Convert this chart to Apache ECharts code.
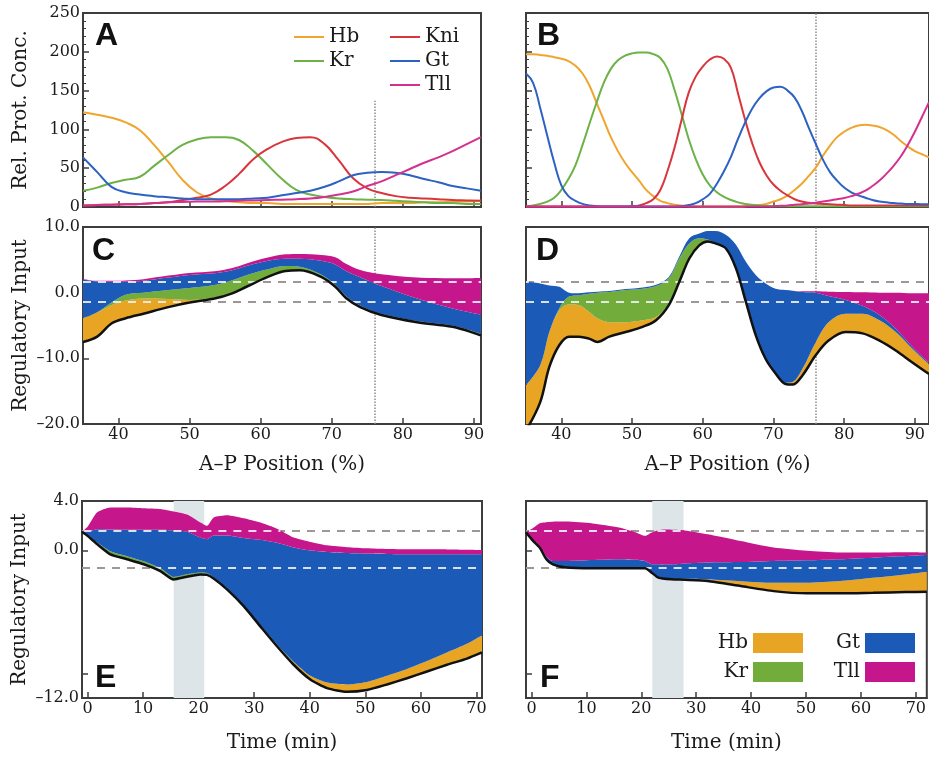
<!DOCTYPE html>
<html>
<head>
<meta charset="utf-8">
<script src="https://cdn.jsdelivr.net/npm/echarts@6.0.0/dist/echarts.min.js"></script>
<style>
html, body { margin: 0; padding: 0; background: #fff; }
#chart { width: 929px; height: 757px; }
</style>
</head>
<body>
<div id="chart"></div>
<script>
// Panel A: protein profiles (A-P position %, relative concentration)
var aX = [35, 37, 39, 41, 43, 45, 47, 49, 51, 53, 55, 57, 59, 61, 63, 65, 67, 69, 71, 73, 75, 77, 79, 81, 83, 85, 87, 89, 91];
var aHb = [122, 119, 115, 109, 99, 80, 58, 35, 19, 11, 8, 6, 5, 5, 4, 4, 4, 4, 4, 4, 4, 5, 5, 5, 6, 6, 7, 7, 8];
var aKr = [21, 25, 31, 35, 39, 53, 67, 80, 87, 90, 90, 86, 72, 54, 36, 22, 16, 13, 11, 10, 9.5, 9, 8, 7, 6, 5, 5, 4, 4];
var aKni = [2, 2.5, 3, 3.5, 4, 5, 6, 9, 12, 16, 27, 43, 62, 75, 84, 89, 90, 81, 60, 37, 24, 18, 14, 12, 11, 10, 9, 8.5, 8];
var aGt = [64, 45, 26, 19, 16, 14, 12.5, 11, 10, 10, 10, 10, 11, 12, 15, 18, 21, 26, 33, 41, 44, 45, 44, 41, 36, 32, 27, 24, 21];
var aTll = [2, 2.5, 3, 3.5, 4, 5, 6, 6.5, 7, 7, 7.5, 8, 8.5, 9, 9.5, 10, 11, 13, 16, 20, 27, 33, 41, 49, 57, 64, 72, 81, 90];

// Panel B: protein profiles, later stage
var bX = [35, 36, 37, 38, 39, 40, 41, 42, 43, 44, 45, 46, 47, 48, 49, 50, 51, 52, 53, 54, 55, 56, 57, 58, 59, 60, 61, 62, 63, 64, 65, 66, 67, 68, 69, 70, 71, 72, 73, 74, 75, 76, 77, 78, 79, 80, 81, 82, 83, 84, 85, 86, 87, 88, 89, 90, 91, 92];
var bHb = [197, 197, 196, 195, 193, 191, 188, 182, 172, 156, 134, 112, 90, 72, 57, 45, 34, 22, 14, 8, 5, 3, 2, 1, 1, 0.5, 0.5, 0.5, 0.5, 0.5, 0.5, 1, 1.5, 2.5, 4, 7, 10, 15, 22, 30, 40, 51, 66, 79, 90, 97, 102, 105, 106, 105, 103, 99, 93, 85, 78, 72, 68, 64];
var bKr = [1, 2, 4, 7, 12, 22, 36, 54, 80, 108, 135, 160, 178, 189, 195, 198, 199, 199, 197, 192, 178, 151, 120, 88, 62, 42, 28, 19, 13, 9, 6, 4, 3, 2, 1.5, 1, 1, 1, 1, 1, 1, 1, 1, 1, 1, 1, 1, 1, 1, 1, 1, 1, 1, 1, 1, 1, 1, 1];
var bKni = [0.5, 0.5, 0.5, 0.5, 0.5, 0.5, 0.5, 0.5, 0.5, 0.5, 0.5, 0.5, 0.5, 0.5, 0.5, 1, 2, 5, 10, 22, 46, 76, 112, 147, 168, 181, 190, 194, 191, 179, 146, 112, 82, 58, 41, 29, 21, 15, 10, 7, 5.5, 4.5, 4, 3.5, 3, 2.5, 2, 2, 2, 2, 2, 2, 2, 2, 2, 2, 2, 2];
var bGt = [172, 160, 128, 92, 57, 28, 14, 8, 4, 2, 1, 0.5, 0.5, 0.5, 0.5, 0.5, 0.5, 0.5, 0.5, 0.5, 0.5, 0.5, 1, 2.5, 5, 10, 17, 30, 46, 65, 88, 109, 127, 140, 149, 154, 155, 150, 141, 124, 102, 81, 61, 45, 34, 25, 19, 15, 12, 9, 7, 6, 5, 4.5, 4, 4, 3.5, 3.5];
var bTll = [0.5, 0.5, 0.5, 0.5, 0.5, 0.5, 0.5, 0.5, 0.5, 0.5, 0.5, 0.5, 0.5, 0.5, 0.5, 0.5, 0.5, 0.5, 0.5, 0.5, 0.5, 0.5, 0.5, 0.5, 0.5, 0.5, 0.5, 0.5, 0.5, 0.5, 0.5, 0.5, 0.5, 0.5, 0.5, 1, 1.5, 2, 2.8, 3.5, 4.5, 5.5, 7, 8.5, 10, 11.5, 14, 17, 21, 27, 34, 43, 53, 65, 80, 97, 116, 135];

// Panel C: regulatory input (total + stacked contributions)
var cX = [35, 37, 39, 41, 43.5, 47, 50, 53.5, 56, 58, 61, 63.5, 65.5, 68.5, 70.5, 72, 74, 77, 82, 87, 91];
var cTotal = [-7.5, -6.7, -4.7, -3.9, -3.2, -2.2, -1.5, -0.9, -0.1, 0.9, 2.4, 3.3, 3.4, 2.4, 0.9, -0.8, -2.2, -3.4, -4.5, -5.2, -6.5];
var cHb = [3.6, 3.7, 2.8, 2.7, 2.3, 1.25, 0.4, 0.15, 0.1, 0.05, 0.05, 0.05, 0.05, 0.05, 0.1, 0.1, 0.1, 0.1, 0.1, 0.1, 0.15];
var cKr = [0, 0, 0.4, 0.9, 0.9, 1.35, 1.8, 1.9, 1.9, 1.7, 1.1, 0.7, 0.5, 0.3, 0.2, 0.2, 0.15, 0.1, 0.1, 0.1, 0.1];
var cGt = [5.9, 4.7, 3.15, 1.95, 1.8, 1.9, 2.0, 1.8, 1.5, 1.4, 1.3, 1.1, 1.2, 2.1, 3.1, 3.8, 4.3, 4.2, 3.4, 2.6, 2.9];
var cTll = [0.1, 0.1, 0.15, 0.2, 0.25, 0.3, 0.3, 0.3, 0.35, 0.4, 0.5, 0.7, 0.75, 0.9, 1.1, 1.1, 1.1, 1.8, 3.2, 4.6, 5.6];

// Panel D
var dX = [35, 37, 38.3, 39.7, 41.1, 42.5, 43.9, 45.1, 46.8, 49.1, 51.5, 53.4, 55.2, 56.7, 58.1, 59.5, 60.7, 61.8, 63.3, 64.7, 66.1, 67.5, 68.9, 70.3, 71.7, 72.7, 74.1, 76, 77.8, 80.2, 82.6, 85, 87.3, 89.6, 92];
var dTotal = [-21, -16.7, -11.3, -8.0, -6.7, -6.7, -7.0, -7.5, -6.7, -6.0, -5.2, -4.2, -1.9, 1.7, 5.2, 7.2, 7.8, 7.5, 6.7, 3.7, -1.4, -6.5, -10.1, -12.3, -13.9, -14.0, -12.6, -9.5, -7.3, -6.0, -6.2, -7.3, -8.8, -10.6, -12.4];
var dHb = [6.9, 5.6, 5.3, 5.3, 4.9, 4.8, 4.1, 3.6, 2.2, 1.5, 1.0, 0.5, 0.1, 0.05, 0, 0, 0, 0, 0, 0, 0, 0, 0, 0, 0.2, 0.4, 1.0, 2.0, 2.8, 2.8, 3.0, 3.1, 2.8, 2.1, 1.5];
var dKr = [0, 0, 0, 0.3, 1.2, 1.5, 2.75, 3.9, 4.6, 4.9, 4.8, 4.7, 4.0, 3.5, 2.3, 1.1, 0.3, 0.1, 0, 0, 0, 0, 0, 0, 0, 0, 0, 0, 0, 0, 0, 0, 0, 0, 0];
var dGt = [15.75, 12.5, 7.1, 3.3, 0.6, 0.3, 0.2, 0.15, 0.15, 0.15, 0.2, 0.2, 0.2, 0.3, 0.8, 0.7, 1.3, 1.8, 2.1, 3.6, 6.1, 9.2, 11.5, 12.9, 14.1, 13.9, 11.7, 7.5, 4.0, 2.1, 1.2, 0.8, 0.5, 0.3, 0.2];
var dTll = [0, 0, 0, 0, 0, 0, 0, 0, 0, 0, 0, 0, 0, 0, 0, 0, 0, 0, 0, 0, 0, 0, 0, 0, 0, 0, 0.1, 0.2, 0.65, 1.2, 2.05, 3.4, 5.5, 8.1, 10.6];

// Panel E: regulatory input over time (min)
var eT = [-1, 0, 1.7, 4.1, 7.1, 10.1, 13.1, 15.5, 17.9, 20.3, 21.5, 22.7, 25.1, 28.1, 31.1, 34.1, 37.1, 40.1, 43.1, 46.7, 50.3, 53.9, 57.5, 61.1, 64.7, 68.3, 71];
var eTotal = [1.5, 1.17, 0.5, -0.33, -0.73, -1.14, -1.69, -2.37, -2.15, -1.96, -2.0, -2.3, -3.18, -4.54, -6.18, -7.8, -9.3, -10.5, -11.2, -11.5, -11.35, -10.9, -10.4, -9.85, -9.3, -8.8, -8.3];
var eHb = [0, 0, 0, 0, 0, 0, 0, 0, 0, 0, 0, 0, 0, 0.02, 0.05, 0.1, 0.2, 0.3, 0.45, 0.6, 0.65, 0.7, 0.75, 0.85, 1.0, 1.2, 1.4];
var eKr = [0, 0.05, 0.15, 0.25, 0.25, 0.25, 0.25, 0.2, 0.2, 0.15, 0.15, 0.1, 0.1, 0.05, 0.05, 0.05, 0.05, 0, 0, 0, 0, 0, 0, 0, 0, 0, 0];
var eGt = [0, 0.28, 1.05, 1.76, 2.14, 2.55, 3.1, 3.77, 3.45, 2.84, 2.75, 3.4, 4.28, 5.47, 6.93, 8.25, 9.27, 10.17, 10.6, 10.67, 10.43, 9.9, 9.32, 8.67, 7.97, 7.27, 6.57];
var eTll = [0, 0.4, 1.37, 1.8, 1.82, 1.76, 1.69, 1.55, 1.4, 1.23, 1.09, 1.47, 1.65, 1.6, 1.4, 1.15, 0.81, 0.71, 0.55, 0.48, 0.43, 0.4, 0.41, 0.41, 0.4, 0.38, 0.36];

// Panel F
var fT = [-1, 0.3, 1.5, 2.7, 3.9, 6.3, 11.1, 15.9, 18.9, 20.7, 21.9, 23.1, 24.3, 26.1, 27.9, 32.1, 38.1, 44.1, 50.2, 56.2, 62.2, 68.2, 72];
var fTotal = [1.45, 0.76, 0.22, -0.73, -1.14, -1.41, -1.47, -1.47, -1.47, -1.47, -1.82, -2.23, -2.32, -2.37, -2.4, -2.5, -2.91, -3.32, -3.5, -3.5, -3.46, -3.4, -3.37];
var fHb = [0, 0, 0, 0, 0, 0, 0, 0, 0, 0, 0, 0, 0, 0.05, 0.08, 0.13, 0.4, 0.68, 0.86, 1.0, 1.23, 1.44, 1.63];
var fKr = [0, 0, 0, 0, 0, 0, 0, 0, 0, 0, 0, 0, 0, 0, 0, 0, 0, 0, 0, 0, 0, 0, 0];
var fGt = [0, 0.1, 0.13, 0.23, 0.27, 0.54, 0.68, 0.74, 0.7, 0.6, 0.68, 1.09, 1.15, 1.18, 1.25, 1.37, 1.55, 1.77, 1.82, 1.77, 1.63, 1.5, 1.36];
var fTll = [0, 0.95, 1.85, 2.78, 3.19, 3.2, 2.97, 2.58, 2.24, 2.04, 2.58, 2.76, 2.85, 2.8, 2.68, 2.3, 1.71, 1.09, 0.77, 0.54, 0.41, 0.3, 0.2];

var thresholds = [1.6, -1.45];     // dashed activation bounds
var markerPos = 76;                // dotted A-P marker
var markerTopA = 137;
var windowE = [15.5, 21];          // shaded time windows
var windowF = [22, 27.7];

var SERIF = 'DejaVu Serif';
var INK = '#1a1a1a';
var EDGE = '#3d3d3d';
var LINE = {Hb: '#efa52e', Kr: '#6cb246', Kni: '#d8363c', Gt: '#2c62c2', Tll: '#d4318f'};
var FILL = {Hb: '#e8a524', Kr: '#72ad3b', Gt: '#1b5bb7', Tll: '#c6168b'};

var chart = echarts.init(document.getElementById('chart'));

function pairs(xs, ys) {
    return xs.map(function (x, i) { return [x, ys[i]]; });
}

// value first, position second: with two value axes echarts stacks the first dimension
function stackPairs(xs, ys) {
    return xs.map(function (x, i) { return [ys[i], x]; });
}

function fmt(v) {
    return v.toFixed(1).replace('-', '\u2013');
}

var nameStyle = {fontFamily: SERIF, fontSize: 20, color: INK};
var labelStyle = {fontFamily: SERIF, fontSize: 16, color: INK, margin: 3};

function xAxisFor(gi, min, max, name, gap) {
    var ax = {
        type: 'value', gridIndex: gi, min: min, max: max,
        axisLine: {onZero: false, lineStyle: {color: EDGE, width: 2}},
        axisTick: {inside: true, length: 6, lineStyle: {color: EDGE, width: 1.5}},
        splitLine: {show: false},
        axisLabel: {show: false}
    };
    if (name) {
        ax.axisLabel = Object.assign({show: true, showMinLabel: false, showMaxLabel: false}, labelStyle);
        ax.name = name;
        ax.nameLocation = 'middle';
        ax.nameGap = gap;
        ax.nameTextStyle = nameStyle;
    }
    return ax;
}

function yAxisFor(gi, min, max, interval, opts) {
    var ax = {
        type: 'value', gridIndex: gi, min: min, max: max, interval: interval,
        axisLine: {onZero: false, lineStyle: {color: EDGE, width: 2}},
        axisTick: {inside: true, length: 6, lineStyle: {color: EDGE, width: 1.5}},
        splitLine: {show: false},
        axisLabel: {show: false}
    };
    if (opts.minor) {
        ax.minorTick = {show: true, splitNumber: 5, length: 3, lineStyle: {color: EDGE, width: 1}};
        ax.minorSplitLine = {show: false};
    }
    if (opts.ticks) ax.axisTick.customValues = opts.ticks;
    if (opts.labels) {
        ax.axisLabel = Object.assign({show: true}, labelStyle);
        if (opts.formatter) ax.axisLabel.formatter = opts.formatter;
        if (opts.labelValues) ax.axisLabel.customValues = opts.labelValues;
    }
    if (opts.name) {
        ax.name = opts.name;
        ax.nameLocation = 'middle';
        ax.nameGap = 52;
        ax.nameTextStyle = nameStyle;
    }
    return ax;
}

function geneLines(gi, xs, table) {
    return ['Hb', 'Kr', 'Kni', 'Gt', 'Tll'].map(function (g) {
        return {
            type: 'line', name: g, xAxisIndex: gi, yAxisIndex: gi,
            data: pairs(xs, table[g]), symbol: 'none', smooth: 0.45, silent: true, z: 3,
            lineStyle: {color: LINE[g], width: 2}, itemStyle: {color: LINE[g]}
        };
    });
}

// spans of x where the colored stack covers a given level
function coveredSpans(xs, lows, highs, level) {
    function cross(a, b) {
        var f;
        if ((lows[a] < level) !== (lows[b] < level)) {
            f = (level - lows[a]) / (lows[b] - lows[a]);
        } else {
            f = (level - highs[a]) / (highs[b] - highs[a]);
        }
        return xs[a] + f * (xs[b] - xs[a]);
    }
    var spans = [], start = null;
    for (var i = 0; i < xs.length; i++) {
        var inside = lows[i] < level && highs[i] > level;
        if (inside && start === null) {
            start = i === 0 ? xs[0] : cross(i - 1, i);
        } else if (!inside && start !== null) {
            spans.push([start, cross(i - 1, i)]);
            start = null;
        }
    }
    if (start !== null) spans.push([start, xs[xs.length - 1]]);
    return spans;
}

function stackedPanel(gi, xs, total, parts, smooth, extras) {
    var key = 'input' + gi;
    var out = [];
    var highs = xs.map(function (x, i) {
        return parts.reduce(function (s, p) { return s + p[1][i]; }, total[i]);
    });
    var under = {
        type: 'line', xAxisIndex: gi, yAxisIndex: gi, data: [], silent: true,
        markLine: {
            silent: true, z: 1, symbol: ['none', 'none'], label: {show: false}, animation: false,
            lineStyle: {color: '#9e9794', type: [8, 7], width: 2},
            data: thresholds.map(function (v) { return {yAxis: v}; })
        }
    };
    if (extras.marker) {
        under.markLine.data.push({xAxis: markerPos, lineStyle: {type: 'dotted', color: '#8c8c8c', width: 1.5}});
    }
    if (extras.window) {
        under.markArea = {
            silent: true, itemStyle: {color: '#dde5e9'},
            data: [[{xAxis: extras.window[0]}, {xAxis: extras.window[1]}]]
        };
    }
    out.push(under);
    var common = {
        type: 'line', stack: key, stackStrategy: 'all', xAxisIndex: gi, yAxisIndex: gi,
        encode: {x: 1, y: 0}, symbol: 'none', smooth: smooth, silent: true
    };
    out.push(Object.assign({}, common, {
        name: 'total', data: stackPairs(xs, total), z: 5,
        lineStyle: {color: '#111', width: 2.5}
    }));
    parts.forEach(function (p) {
        out.push(Object.assign({}, common, {
            name: p[0], data: stackPairs(xs, p[1]), z: 2,
            lineStyle: {width: 0, opacity: 0},
            itemStyle: {color: FILL[p[0]]},
            areaStyle: {color: FILL[p[0]], opacity: 1}
        }));
    });
    var segs = [];
    thresholds.forEach(function (level) {
        coveredSpans(xs, total, highs, level).forEach(function (s) {
            segs.push([{coord: [s[0], level]}, {coord: [s[1], level]}]);
        });
    });
    out.push({
        type: 'line', xAxisIndex: gi, yAxisIndex: gi, data: [], silent: true,
        markLine: {
            silent: true, z: 4, symbol: ['none', 'none'], label: {show: false}, animation: false,
            lineStyle: {color: 'rgba(238,238,245,0.9)', type: [8, 7], width: 2},
            data: segs
        }
    });
    return out;
}

var series = [].concat(
    geneLines(0, aX, {Hb: aHb, Kr: aKr, Kni: aKni, Gt: aGt, Tll: aTll}),
    geneLines(1, bX, {Hb: bHb, Kr: bKr, Kni: bKni, Gt: bGt, Tll: bTll}),
    [{
        type: 'line', xAxisIndex: 0, yAxisIndex: 0, data: [], silent: true,
        markLine: {silent: true, z: 1, symbol: ['none', 'none'], label: {show: false},
            lineStyle: {type: 'dotted', color: '#8c8c8c', width: 1.5},
            data: [[{coord: [markerPos, 0]}, {coord: [markerPos, markerTopA]}]]}
    }, {
        type: 'line', xAxisIndex: 1, yAxisIndex: 1, data: [], silent: true,
        markLine: {silent: true, z: 1, symbol: ['none', 'none'], label: {show: false},
            lineStyle: {type: 'dotted', color: '#8c8c8c', width: 1.5},
            data: [{xAxis: markerPos}]}
    }],
    stackedPanel(2, cX, cTotal, [['Hb', cHb], ['Kr', cKr], ['Gt', cGt], ['Tll', cTll]], 0.35, {marker: true}),
    stackedPanel(3, dX, dTotal, [['Hb', dHb], ['Kr', dKr], ['Gt', dGt], ['Tll', dTll]], 0.35, {marker: true}),
    stackedPanel(4, eT, eTotal, [['Hb', eHb], ['Kr', eKr], ['Gt', eGt], ['Tll', eTll]], 0.2, {window: windowE}),
    stackedPanel(5, fT, fTotal, [['Hb', fHb], ['Kr', fKr], ['Gt', fGt], ['Tll', fTll]], 0.2, {window: windowF})
);

var legendText = {fontFamily: SERIF, fontSize: 20, color: INK};

function lineLegend(names, left) {
    return {
        left: left, top: 27, orient: 'vertical', padding: 0, icon: 'rect',
        itemWidth: 30, itemHeight: 2, itemGap: 4, selectedMode: false, textStyle: legendText,
        data: names.map(function (n) { return {name: n, itemStyle: {color: LINE[n], borderWidth: 0}}; })
    };
}

function boxLegend(name, right, top) {
    return {
        right: right, top: top, padding: 0, icon: 'rect', align: 'right',
        itemWidth: 50, itemHeight: 20, selectedMode: false, textStyle: legendText,
        data: [{name: name, itemStyle: {color: FILL[name], borderWidth: 0}}]
    };
}

function letter(t, left, top) {
    return {
        type: 'text', left: left, top: top, silent: true,
        style: {text: t, fontFamily: 'Liberation Sans', fontWeight: 'bold', fontSize: 32, fill: '#111'}
    };
}

var eFormatter = function (v) {
    return (v === 4 || v === 0 || v === -12) ? fmt(v) : '';
};

var option = {
    animation: false,
    backgroundColor: '#fff',
    grid: [
        {left: 83, top: 13, right: 448, bottom: 550, show: true, borderColor: EDGE, borderWidth: 2},
        {left: 526, top: 13, right: 0, bottom: 550, show: true, borderColor: EDGE, borderWidth: 2},
        {left: 83, top: 227, right: 448, bottom: 333, show: true, borderColor: EDGE, borderWidth: 2},
        {left: 526, top: 227, right: 0, bottom: 333, show: true, borderColor: EDGE, borderWidth: 2},
        {left: 82, top: 501, right: 447, bottom: 59, show: true, borderColor: EDGE, borderWidth: 2},
        {left: 526, top: 501, right: -2, bottom: 59, show: true, borderColor: EDGE, borderWidth: 2}
    ],
    xAxis: [
        xAxisFor(0, 35, 91),
        xAxisFor(1, 35, 92),
        xAxisFor(2, 35, 91, 'A\u2013P Position (%)', 31),
        xAxisFor(3, 35, 92, 'A\u2013P Position (%)', 31),
        xAxisFor(4, -1, 71, 'Time (min)', 35),
        xAxisFor(5, -1, 72, 'Time (min)', 35)
    ],
    yAxis: [
        yAxisFor(0, 0, 250, 50, {minor: true, labels: true, name: 'Rel. Prot. Conc.'}),
        yAxisFor(1, 0, 250, 50, {minor: true}),
        yAxisFor(2, -20, 10, 10, {labels: true, formatter: fmt, name: 'Regulatory Input'}),
        yAxisFor(3, -20, 10, 10, {}),
        yAxisFor(4, -12, 4, 2, {labels: true, formatter: eFormatter, ticks: [4, 0, -10, -12],
            labelValues: [4, 0, -12], name: 'Regulatory Input'}),
        yAxisFor(5, -12, 4, 2, {ticks: [4, 0, -10, -12]})
    ],
    legend: [
        lineLegend(['Hb', 'Kr'], 294),
        lineLegend(['Kni', 'Gt', 'Tll'], 390),
        boxLegend('Hb', 126, 633),
        boxLegend('Kr', 126, 662),
        boxLegend('Gt', 14, 633),
        boxLegend('Tll', 14, 662)
    ],
    graphic: [
        letter('A', 95, 20),
        letter('B', 537, 20),
        letter('C', 92, 235),
        letter('D', 536, 235),
        letter('E', 95, 662),
        letter('F', 540, 662)
    ],
    series: series
};

chart.setOption(option);
</script>
</body>
</html>
